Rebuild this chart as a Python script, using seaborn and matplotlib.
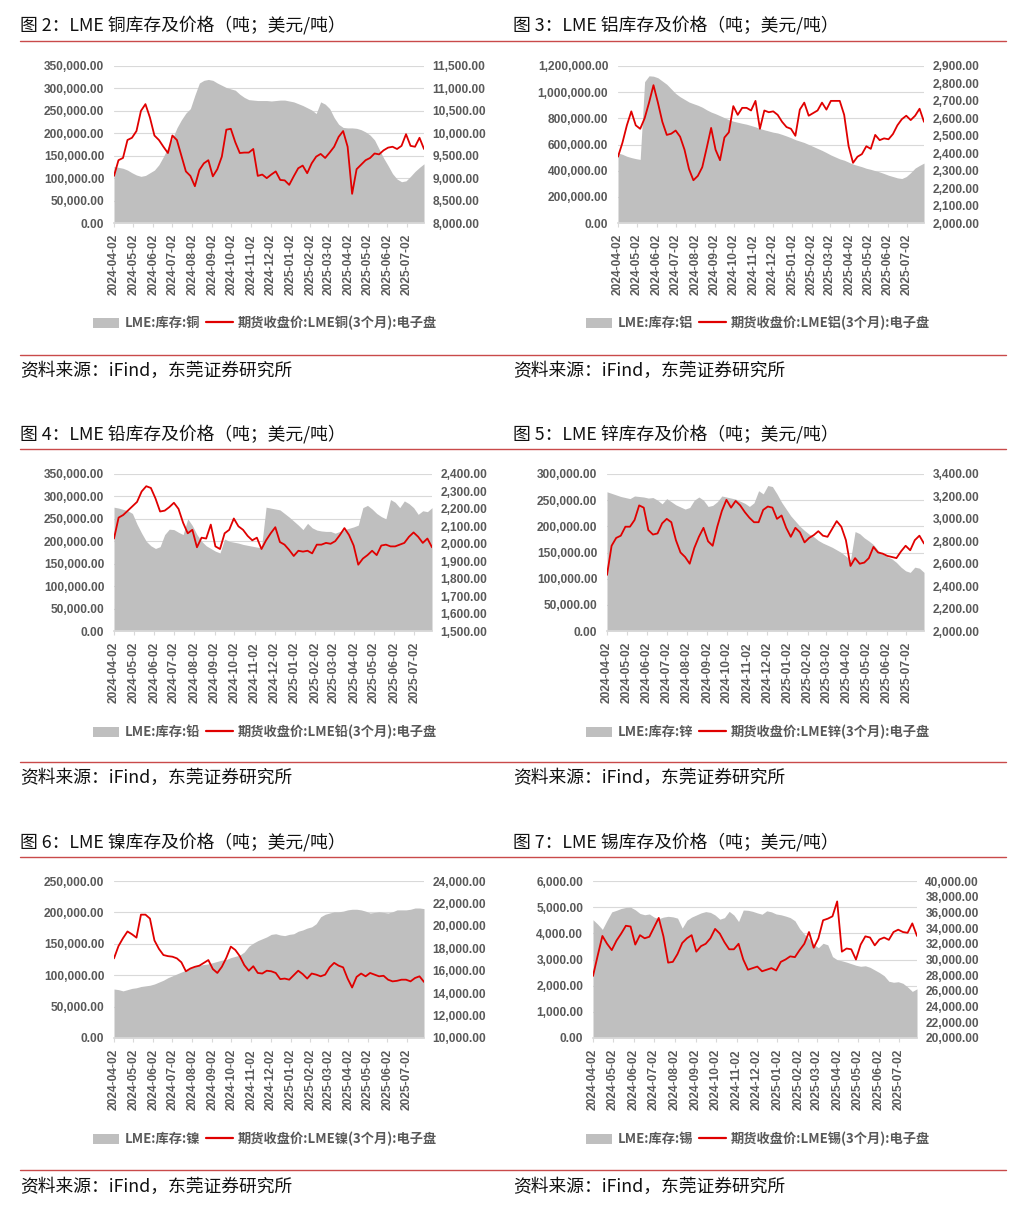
import numpy as np
import pandas as pd
import seaborn as sns
import matplotlib.pyplot as plt
from matplotlib.lines import Line2D
from matplotlib.patches import Patch

sns.set_theme(style="white")
plt.rcParams['font.family'] = ['Liberation Sans', 'Noto Sans CJK SC', 'DejaVu Sans']

# weekly observations, 2024-04-02 .. 2025-07-29
dates = pd.date_range("2024-04-02", periods=70, freq="7D")
month_ticks = pd.date_range("2024-04-02", "2025-07-02", freq=pd.DateOffset(months=1))

metals = ["铜", "铝", "铅", "锌", "镍", "锡"]
fig_nums = [2, 3, 4, 5, 6, 7]

cu_stock = [126000, 124000, 122000, 118000, 112000, 107000, 104000, 106000, 112000, 118000,
            130000, 148000, 168000, 188000, 212000, 230000, 245000, 255000, 285000, 312000,
            318000, 320000, 318000, 312000, 307000, 302000, 299000, 296000, 287000, 280000,
            275000, 274000, 273000, 273000, 273000, 272000, 273000, 274000, 274000, 272000,
            270000, 266000, 262000, 257000, 252000, 244000, 270000, 265000, 255000, 235000,
            220000, 213000, 212000, 212000, 211000, 208000, 203000, 196000, 185000, 165000,
            145000, 128000, 110000, 98000, 92000, 94000, 104000, 115000, 124000, 132000]
cu_price = [9050, 9400, 9450, 9850, 9900, 10050, 10500, 10650, 10350, 9950,
            9850, 9700, 9560, 9950, 9850, 9500, 9150, 9050, 8820, 9180,
            9330, 9400, 9040, 9200, 9480, 10080, 10100, 9800, 9560, 9570,
            9570, 9650, 9050, 9080, 9000, 9080, 9150, 8960, 8950, 8850,
            9040, 9220, 9280, 9110, 9330, 9480, 9540, 9450, 9570, 9700,
            9920, 10050, 9700, 8650, 9200, 9300, 9400, 9450, 9550, 9530,
            9620, 9680, 9700, 9650, 9720, 9980, 9720, 9700, 9900, 9650]

al_stock = [535000, 525000, 510000, 500000, 492000, 486000, 1080000, 1125000, 1122000, 1110000,
            1085000, 1060000, 1025000, 990000, 965000, 945000, 925000, 912000, 900000, 885000,
            865000, 848000, 835000, 820000, 805000, 790000, 778000, 770000, 762000, 755000,
            745000, 735000, 722000, 712000, 703000, 694000, 688000, 677000, 665000, 652000,
            637000, 626000, 615000, 600000, 585000, 570000, 555000, 538000, 520000, 505000,
            490000, 480000, 465000, 450000, 440000, 430000, 418000, 410000, 400000, 390000,
            378000, 365000, 355000, 345000, 340000, 355000, 385000, 420000, 440000, 458000]
al_price = [2380, 2460, 2560, 2640, 2560, 2540, 2600, 2690, 2790, 2690,
            2580, 2505, 2512, 2530, 2495, 2420, 2310, 2245, 2270, 2320,
            2430, 2545, 2420, 2360, 2490, 2520, 2670, 2620, 2660, 2660,
            2645, 2700, 2540, 2645, 2635, 2640, 2620, 2580, 2550, 2540,
            2500, 2650, 2690, 2615, 2630, 2645, 2690, 2650, 2700, 2700,
            2700, 2620, 2440, 2345, 2380, 2395, 2440, 2425, 2505, 2475,
            2485, 2480, 2510, 2560, 2595, 2615, 2590, 2615, 2655, 2580]

pb_stock = [276000, 274000, 271000, 268000, 262000, 238000, 218000, 200000, 190000, 184000,
            188000, 215000, 227000, 226000, 220000, 215000, 250000, 235000, 215000, 200000,
            190000, 184000, 178000, 174000, 205000, 200000, 198000, 196000, 193000, 191000,
            189000, 187000, 186000, 276000, 274000, 272000, 270000, 262000, 254000, 245000,
            236000, 226000, 240000, 230000, 225000, 223000, 222000, 222000, 218000, 222000,
            226000, 229000, 232000, 236000, 275000, 280000, 272000, 262000, 255000, 250000,
            293000, 287000, 275000, 290000, 284000, 275000, 260000, 268000, 266000, 275000]
pb_price = [2030, 2150, 2165, 2190, 2215, 2240, 2300, 2330, 2320, 2260,
            2185, 2190, 2210, 2235, 2200, 2120, 2060, 2080, 1980, 2035,
            2030, 2110, 1985, 1970, 2060, 2080, 2145, 2100, 2080, 2045,
            2020, 2035, 1970, 2020, 2060, 2095, 2010, 1995, 1965, 1930,
            1960, 1955, 1960, 1945, 1995, 1995, 2005, 2000, 2015, 2050,
            2090, 2050, 1990, 1880, 1915, 1935, 1960, 1935, 1990, 1995,
            1985, 1985, 1995, 2005, 2040, 2065, 2040, 2005, 2030, 1980]

zn_stock = [266000, 263000, 260000, 257000, 255000, 253000, 258000, 257000, 256000, 254000,
            255000, 250000, 243000, 253000, 247000, 241000, 237000, 233000, 236000, 250000,
            256000, 250000, 238000, 240000, 247000, 258000, 256000, 254000, 252000, 248000,
            244000, 238000, 245000, 268000, 262000, 278000, 276000, 262000, 246000, 233000,
            220000, 210000, 200000, 192000, 185000, 180000, 173000, 168000, 164000, 160000,
            155000, 150000, 143000, 136000, 190000, 186000, 178000, 172000, 165000, 154000,
            147000, 142000, 138000, 131000, 122000, 115000, 112000, 122000, 120000, 112000]
zn_price = [2500, 2760, 2830, 2850, 2930, 2930, 2990, 3120, 3100, 2900,
            2860, 2870, 2960, 3000, 2970, 2810, 2700, 2660, 2600, 2740,
            2840, 2920, 2800, 2760, 2930, 3070, 3170, 3100, 3160, 3120,
            3060, 3010, 2970, 2970, 3080, 3110, 3100, 3000, 3030, 2920,
            2840, 2920, 2880, 2790, 2830, 2855, 2890, 2850, 2840, 2910,
            2980, 2930, 2810, 2580, 2650, 2600, 2610, 2650, 2750, 2700,
            2690, 2670, 2660, 2650, 2710, 2760, 2720, 2810, 2850, 2780]

ni_stock = [78000, 77000, 75000, 77000, 79000, 80000, 82000, 83000, 84000, 86000,
            89000, 92000, 96000, 99000, 102000, 105000, 108000, 111000, 114000, 116000,
            117000, 118000, 120000, 122000, 124000, 125000, 128000, 130000, 132000, 137000,
            146000, 151000, 155000, 158000, 161000, 165000, 166000, 164000, 163000, 165000,
            166000, 170000, 172000, 175000, 177000, 182000, 193000, 197000, 199000, 201000,
            201000, 202000, 204000, 205000, 205000, 204000, 202000, 199000, 200000, 201000,
            200000, 199000, 201000, 204000, 204000, 204000, 205000, 207000, 207000, 206000]
ni_price = [17100, 18200, 18900, 19500, 19250, 18950, 21000, 21000, 20650, 18700,
            17950, 17400, 17300, 17250, 17100, 16750, 15950, 16200, 16350, 16450,
            16700, 16950, 16150, 15800, 16350, 17150, 18150, 17850, 17300, 16500,
            16000, 16400, 15800, 15750, 16000, 15950, 15800, 15250, 15300, 15200,
            15600, 16000, 15700, 15300, 15750, 15650, 15500, 15650, 16300, 16700,
            16450, 16300, 15300, 14500, 15450, 15750, 15500, 15800, 15650, 15500,
            15550, 15200, 15050, 15100, 15200, 15200, 15050, 15350, 15500, 15000]

sn_stock = [4520, 4350, 4150, 4500, 4820, 4880, 4950, 4990, 5000, 4900,
            4760, 4710, 4740, 4620, 4560, 4620, 4650, 4630, 4580, 4200,
            4500, 4620, 4700, 4780, 4830, 4800, 4700, 4540, 4600, 4840,
            4700, 4450, 4890, 4880, 4840, 4780, 4730, 4860, 4820, 4740,
            4710, 4660, 4600, 4480, 4180, 3970, 3790, 3580, 3450, 3620,
            3560, 3110, 2990, 2950, 2900, 2840, 2780, 2740, 2760, 2700,
            2600, 2500, 2380, 2170, 2130, 2150, 2090, 1950, 1780, 1880]
sn_price = [27900, 30500, 33000, 32000, 31200, 32400, 33300, 34300, 34200, 31900,
            33100, 32700, 32900, 34100, 35300, 32950, 29600, 29700, 30700, 32100,
            32700, 33100, 31000, 31700, 32000, 32700, 33900, 33300, 32200, 31300,
            31300, 32000, 30000, 28700, 28900, 29100, 28500, 28700, 28900, 28600,
            29700, 30000, 30400, 30300, 31200, 32000, 33500, 31500, 32700, 35000,
            35200, 35500, 37400, 31000, 31400, 31300, 30000, 31900, 32950, 32800,
            31800, 32550, 32800, 32500, 33500, 33800, 33500, 33400, 34600, 33000]

stocks = [cu_stock, al_stock, pb_stock, zn_stock, ni_stock, sn_stock]
prices = [cu_price, al_price, pb_price, zn_price, ni_price, sn_price]
left_axis = [(350000, 50000), (1200000, 200000), (350000, 50000),
             (300000, 50000), (250000, 50000), (6000, 1000)]
right_axis = [(8000, 11500, 500), (2000, 2900, 100), (1500, 2400, 100),
              (2000, 3400, 200), (10000, 24000, 2000), (20000, 40000, 2000)]

W, H = 1026, 1215
# plot boxes in pixels: x0, y0, x1, y1
boxes = [(114, 66, 424, 223), (618, 66, 924, 223),
         (114, 474, 432, 631), (607, 474, 924, 631),
         (114, 881, 424, 1038), (593, 881, 917, 1038)]
row_title_y = [25, 434, 842]
row_line1_y = [41, 449, 857]
row_legend_y = [323, 732, 1139]
row_line2_y = [355, 762, 1170]
row_source_y = [371, 778, 1187]
col_x = [20, 513]
col_legend_x = [265, 758]

GRAY = "#bfbfbf"
RED = "#e00000"
TXT = "#595959"
CJK = ['Noto Sans CJK SC', 'DejaVu Sans']

fig = plt.figure(figsize=(W / 100, H / 100), dpi=100)

for i in range(6):
    row, col = i // 2, i % 2
    x0, y0, x1, y1 = boxes[i]
    ax = fig.add_axes([x0 / W, 1 - y1 / H, (x1 - x0) / W, (y1 - y0) / H])
    ax.fill_between(dates, stocks[i], color=GRAY, lw=0, zorder=1)
    ax2 = ax.twinx()
    sns.lineplot(x=dates, y=prices[i], ax=ax2, color=RED, linewidth=1.3)

    top, step = left_axis[i]
    lt = np.arange(0, top + step / 2, step)
    ax.set_ylim(0, top)
    ax.set_yticks(lt)
    ax.set_yticklabels([f"{v:,.2f}" for v in lt], fontsize=8.6, fontweight="bold", color=TXT)
    lo, hi, rstep = right_axis[i]
    rt = np.arange(lo, hi + rstep / 2, rstep)
    ax2.set_ylim(lo, hi)
    ax2.set_yticks(rt)
    ax2.set_yticklabels([f"{v:,.2f}" for v in rt], fontsize=8.6, fontweight="bold", color=TXT)

    ax.set_xlim(dates[0], dates[-1])
    ax.set_xticks(month_ticks)
    ax.set_xticklabels([d.strftime("%Y-%m-%d") for d in month_ticks], rotation=90,
                       fontsize=8.6, fontweight="bold", color=TXT)
    ax.set_xlabel("")
    ax2.set_xlabel("")
    ax2.set_ylabel("")

    ax.yaxis.grid(True, color="#d9d9d9", lw=0.8)
    ax.set_axisbelow(True)
    for s in ["top", "left", "right"]:
        ax.spines[s].set_visible(False)
    for s in ax2.spines.values():
        s.set_visible(False)
    ax.spines["bottom"].set_color("#d9d9d9")
    ax.tick_params(axis="y", length=0, pad=7)
    ax.tick_params(axis="x", length=3, width=0.8, color="#d9d9d9", pad=5, bottom=True)
    ax2.tick_params(axis="y", length=0, pad=6)

    handles = [Patch(facecolor=GRAY, edgecolor="none"), Line2D([], [], color=RED, lw=1.6)]
    labels = [f"LME:库存:{metals[i]}", f"期货收盘价:LME{metals[i]}(3个月):电子盘"]
    fig.legend(handles, labels, loc="center", ncol=2, frameon=False,
               bbox_to_anchor=(col_legend_x[col] / W, 1 - row_legend_y[row] / H),
               prop={"family": CJK, "size": 9.5, "weight": "bold"}, labelcolor=TXT,
               handlelength=2.0, handleheight=0.8, handletextpad=0.4, columnspacing=0.5)

    fig.text(col_x[col] / W, 1 - row_title_y[row] / H,
             f"图 {fig_nums[i]}：LME {metals[i]}库存及价格（吨；美元/吨）",
             family=CJK, fontsize=12.8, va="center", ha="left", color="#111111")
    fig.text(col_x[col] / W, 1 - row_source_y[row] / H, "资料来源：iFind，东莞证券研究所",
             family=CJK, fontsize=12.8, va="center", ha="left", color="#111111")

for row in range(3):
    for yy in (row_line1_y[row], row_line2_y[row]):
        fig.add_artist(Line2D([20 / W, 1006 / W], [1 - yy / H, 1 - yy / H],
                              color="#c94a4a", lw=1.0))

fig.savefig("out.png", dpi=100)
